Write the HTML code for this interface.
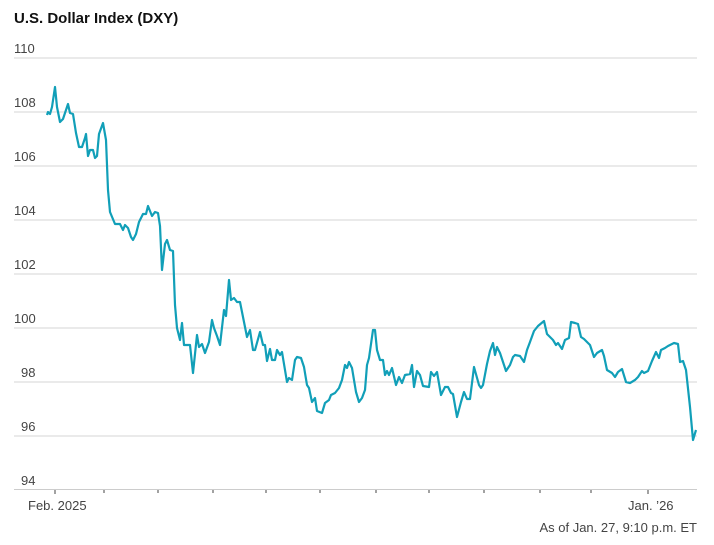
<!DOCTYPE html>
<html><head><meta charset="utf-8"><style>
body{margin:0;background:#fff;width:714px;height:540px;overflow:hidden;font-family:"Liberation Sans",sans-serif}
</style></head><body>
<svg width="714" height="540" xmlns="http://www.w3.org/2000/svg" font-family="Liberation Sans, sans-serif">
<text x="14" y="23" font-size="15" font-weight="bold" fill="#111">U.S. Dollar Index (DXY)</text>
<g stroke="#e3e3e3" stroke-width="1.5">
<line x1="14" x2="697" y1="58" y2="58"/><line x1="14" x2="697" y1="112" y2="112"/>
<line x1="14" x2="697" y1="166" y2="166"/><line x1="14" x2="697" y1="220" y2="220"/>
<line x1="14" x2="697" y1="274" y2="274"/><line x1="14" x2="697" y1="328" y2="328"/>
<line x1="14" x2="697" y1="382" y2="382"/><line x1="14" x2="697" y1="436" y2="436"/>
</g>
<line x1="14" x2="697" y1="489.5" y2="489.5" stroke="#ccc" stroke-width="1"/>
<g font-size="13" fill="#444">
<text x="14" y="53">110</text><text x="14" y="107">108</text><text x="14" y="161">106</text>
<text x="14" y="215">104</text><text x="14" y="269">102</text><text x="14" y="323">100</text>
<text x="21" y="377">98</text><text x="21" y="431">96</text><text x="21" y="485">94</text>
</g>
<g stroke="#444" stroke-width="1">
<line x1="55" x2="55" y1="490" y2="494"/><line x1="104" x2="104" y1="490" y2="493"/>
<line x1="158" x2="158" y1="490" y2="493"/><line x1="213" x2="213" y1="490" y2="493"/>
<line x1="266" x2="266" y1="490" y2="493"/><line x1="320" x2="320" y1="490" y2="493"/>
<line x1="376" x2="376" y1="490" y2="493"/><line x1="429" x2="429" y1="490" y2="493"/>
<line x1="484" x2="484" y1="490" y2="493"/><line x1="540" x2="540" y1="490" y2="493"/>
<line x1="591" x2="591" y1="490" y2="493"/><line x1="648" x2="648" y1="490" y2="494"/>
</g>
<g font-size="13" fill="#444">
<text x="28" y="510">Feb. 2025</text>
<text x="628" y="510">Jan. ’26</text>
<text x="697" y="532" text-anchor="end">As of Jan. 27, 9:10 p.m. ET</text>
</g>
<polyline fill="none" stroke="#119fb8" stroke-width="2.2" stroke-linejoin="round" points="47,115 48,112 50,114 52,107 55,87 57,107 60,122 63,119 66,110 68,104 70,113 73,114 76,133 79,147 82,147 85,138 86,134 88,156 90,150 93,150 95,158 97,156 99,134 103,123 106,140 108,190 110,212 115,224 120,224 123,230 125,225 128,228 131,237 133,240 136,234 139,222 143,214 146,214 148,206 152,216 155,212 158,213 160,226 162,270 165,244 167,240 170,250 173,251 175,305 177,328 180,340 182,323 184,345 188,345 190,345 193,373 197,335 199,347 202,344 205,353 209,342 212,320 214,328 217,336 220,345 224,310 226,316 229,280 231,300 234,298 237,302 240,302 243,317 247,337 250,330 253,350 255,350 260,332 263,345 265,345 267,361 270,349 272,360 275,360 277,350 280,355 282,352 287,382 289,378 292,380 295,360 297,357 301,358 304,367 307,385 309,388 312,402 315,398 317,411 322,413 325,403 329,400 331,395 335,393 339,388 342,380 345,365 347,368 349,362 352,368 356,392 359,402 362,398 365,390 367,365 369,358 373,330 375,330 377,350 380,360 383,360 385,375 387,371 389,375 392,368 396,385 399,377 402,383 405,375 410,374 412,365 414,387 417,371 420,375 423,386 429,387 431,372 434,376 437,372 441,395 445,387 448,387 451,393 453,394 457,417 461,402 464,392 467,399 470,399 474,367 479,385 481,388 483,385 487,364 490,351 493,343 495,355 497,347 500,353 503,362 506,371 510,365 513,357 515,355 520,356 524,362 527,350 530,342 534,331 538,326 544,321 547,334 550,337 553,340 556,345 558,343 562,349 565,340 569,338 571,322 575,323 578,324 581,337 584,339 587,342 590,345 594,357 597,353 602,350 604,356 607,370 612,373 615,377 618,372 622,369 626,382 630,383 635,380 638,377 642,371 644,373 648,371 652,361 656,352 659,358 661,350 665,348 668,346 674,343 678,344 680,362 683,361 686,370 690,407 693,440 696,430"/>
</svg>
</body></html>
